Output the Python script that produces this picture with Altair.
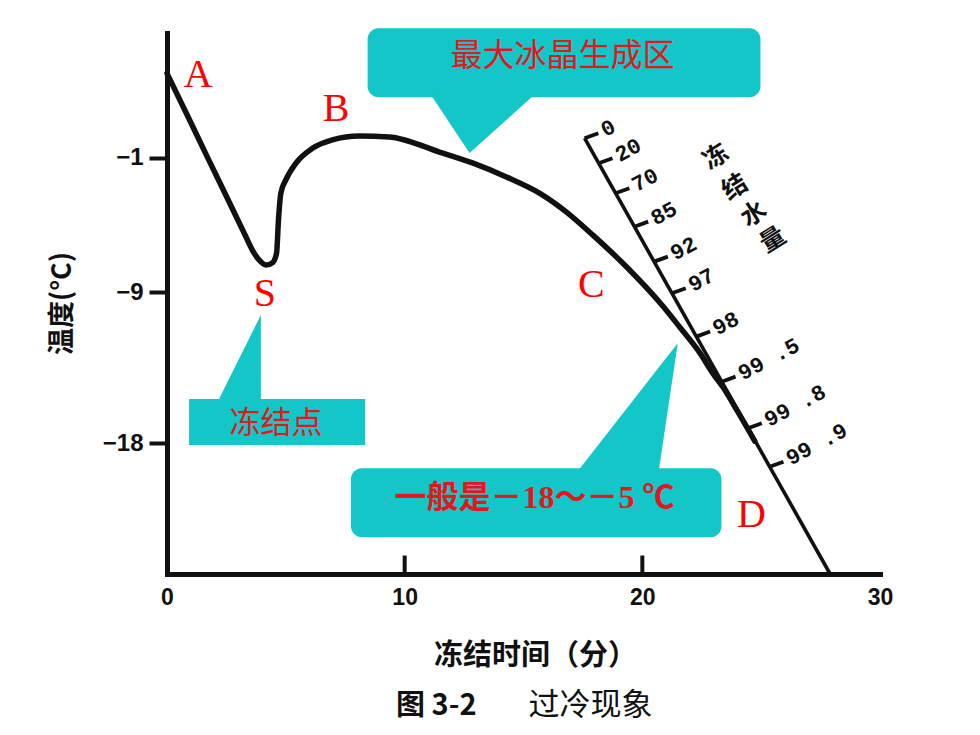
import altair as alt
import pandas as pd
import numpy as np

# ---------------- data ----------------
# cooling curve: freezing time (min) vs temperature (°C)
time_min = [0.0, 0.9, 1.72, 2.6, 3.3, 3.59, 3.88, 4.16, 4.44, 4.61, 4.69, 4.79, 5.00, 5.42, 6.12, 6.96, 8.09,
            9.35, 11.46, 12.85, 14.28, 15.67, 16.81, 17.91, 19.34, 20.86, 21.57, 22.42, 22.96, 23.39, 24.02, 24.73]
temp_c = [4.01, 1.38, -1.03, -3.60, -5.65, -6.50, -7.10, -7.39, -7.25, -6.69, -4.71, -3.12, -2.33, -1.34, -0.45,
          0.05, 0.28, 0.23, -0.67, -1.32, -2.15, -3.11, -4.24, -5.60, -7.51, -9.83, -11.08, -12.62, -13.82,
          -14.65, -16.13, -17.86]

# frozen-water-amount scale (the slanted line)
scale_time = [17.57, 27.89]
scale_temp = [0.15, -25.74]
frozen_labels = ["0", "20", "70", "85", "92", "97", "98", "99 .5", "99 .8", "99 .9"]
frozen_temp = [0.15, -1.34, -3.12, -5.11, -7.19, -9.07, -11.65, -14.33, -17.10, -19.39]
scale_title_chars = ["冻", "结", "水", "量"]
scale_title_time = [23.09, 23.89, 24.69, 25.49]
scale_title_temp = [-0.96, -2.75, -4.36, -5.90]

# axes
y_ticks = [-1, -9, -18]
x_ticks = [0, 10, 20, 30]
x_inner_ticks = [10, 20]
X_DOMAIN = [0, 30]
Y_DOMAIN = [-25.77, 6.41]

# point letters
point_names = ["A", "B", "S", "C", "D"]
point_time = [1.31, 7.11, 4.12, 17.85, 24.59]
point_temp = [3.91, 1.89, -9.11, -8.58, -22.26]

# callouts (data units)
callout_text = ["最大冰晶生成区", "冻结点", "一般是－18～－5 ℃"]
callout_time = [16.64, 4.59, 15.46]
callout_temp = [5.04, -16.85, -21.22]
round_box_x = [8.44, 7.74]
round_box_x2 = [24.97, 23.33]
round_box_y = [6.69, -19.48]
round_box_y2 = [2.59, -23.59]
square_box = dict(x=[0.93], x2=[8.34], y=[-15.36], y2=[-18.10])
pointer_id = ["p1", "p1", "p1", "p2", "p2", "p3", "p3", "p3"]
pointer_x = [11.17, 12.73, 15.34, 2.19, 3.95, 17.38, 20.68, 21.49]
pointer_y = [2.59, -0.73, 2.59, -15.36, -10.36, -19.48, -13.50, -12.05]
pointer_y2 = [2.95, 2.95, 2.95, -15.65, -15.65, -19.75, -19.75, -12.05]

caption_text = ["图 3-2", "过冷现象"]
caption_time = [11.33, 17.82]
caption_temp = [-33.6, -33.6]

# ---------------- styling ----------------
TEAL = "#13C6C7"
RED = "#E3181E"
LETTER_RED = "#FF0000"
INK = "#111111"
CJK = "Noto Sans CJK SC"

xs = alt.Scale(domain=X_DOMAIN, nice=False, zero=False)
ys = alt.Scale(domain=Y_DOMAIN, nice=False, zero=False)

x_axis = alt.Axis(
    values=x_ticks, ticks=False, tickSize=0, grid=False, domainWidth=5, domainColor=INK,
    domainCap="square", labelFont="Liberation Sans", labelFontWeight="bold", labelFontSize=23,
    labelColor=INK, labelPadding=12, labelFlush=False, labelOverlap=False, format="d",
    title="冻结时间（分）", titleFont=CJK, titleFontSize=29, titleFontWeight="bold",
    titleColor=INK, titleX=368, titleY=81, titleBaseline="middle", titleAlign="center")
y_axis = alt.Axis(
    values=y_ticks, tickSize=18, tickWidth=4, tickColor=INK, grid=False, domainWidth=5,
    domainColor=INK, domainCap="square", labelFont="Liberation Sans", labelFontWeight="bold",
    labelFontSize=24, labelColor=INK, labelPadding=6, labelFlush=False, labelOverlap=False,
    format="d", title="温度(°C)", titleFont=CJK, titleFontSize=27, titleFontWeight="bold",
    titleColor=INK, titleAngle=270, titleX=-105, titleY=270, titleBaseline="middle",
    titleAlign="center")


def X(f="x"):
    return alt.X(f"{f}:Q", scale=xs, axis=x_axis)


def Y(f="y"):
    return alt.Y(f"{f}:Q", scale=ys, axis=y_axis)


# ---------------- layers ----------------
rbox_df = pd.DataFrame({"x": round_box_x, "x2": round_box_x2, "y": round_box_y, "y2": round_box_y2})
rboxes = alt.Chart(rbox_df).mark_rect(color=TEAL, cornerRadius=11).encode(
    x=X(), x2="x2:Q", y=Y(), y2="y2:Q")

sbox = alt.Chart(pd.DataFrame(square_box)).mark_rect(color=TEAL).encode(
    x=X(), x2="x2:Q", y=Y(), y2="y2:Q")

ptr_df = pd.DataFrame({"id": pointer_id, "x": pointer_x, "y": pointer_y, "y2": pointer_y2})
pointers = alt.Chart(ptr_df).mark_area(color=TEAL, opacity=1).encode(
    x=X(), y=Y(), y2="y2:Q", detail="id:N")

callout_df = pd.DataFrame({"x": callout_time, "y": callout_temp, "t": callout_text})
c1 = alt.Chart(callout_df.iloc[[0]]).mark_text(font=CJK, fontSize=32, color=RED).encode(
    x=X(), y=Y(), text="t:N")
c2 = alt.Chart(callout_df.iloc[[1]]).mark_text(font=CJK, fontSize=31, color=RED).encode(
    x=X(), y=Y(), text="t:N")
c3 = alt.Chart(callout_df.iloc[[2]]).mark_text(font="Liberation Serif, " + CJK, fontSize=32,
                                               fontWeight="bold", color=RED).encode(
    x=X(), y=Y(), text="t:N")

curve_df = pd.DataFrame({"x": time_min, "y": temp_c})
curve = alt.Chart(curve_df).mark_line(color=INK, strokeWidth=5.5, interpolate="monotone",
                                      strokeCap="round", strokeJoin="round").encode(x=X(), y=Y())

inner_df = pd.DataFrame({"x": x_inner_ticks, "y": [Y_DOMAIN[0]] * len(x_inner_ticks),
                         "y2": [Y_DOMAIN[0] + 1.1] * len(x_inner_ticks)})
inner_ticks = alt.Chart(inner_df).mark_rule(color=INK, strokeWidth=4).encode(
    x=X(), y=Y(), y2="y2:Q")

diag_df = pd.DataFrame({"x": scale_time, "y": scale_temp})
diag = alt.Chart(diag_df).mark_line(color=INK, strokeWidth=3.6).encode(x=X(), y=Y())

ft = np.array(frozen_temp)
slope = (scale_time[1] - scale_time[0]) / (scale_temp[1] - scale_temp[0])
fx = scale_time[0] + (ft - scale_temp[0]) * slope
tick_df = pd.DataFrame({"x": fx, "y": ft, "x2": fx + 0.58, "y2": ft + 0.30, "t": frozen_labels})
diag_ticks = alt.Chart(tick_df).mark_rule(color=INK, strokeWidth=3.8).encode(
    x=X(), y=Y(), x2="x2:Q", y2="y2:Q")
diag_labels = alt.Chart(tick_df).mark_text(
    font="Liberation Mono", fontSize=22, fontWeight="bold", color=INK, angle=332,
    align="left", baseline="middle", dx=19, dy=2).encode(x=X(), y=Y(), text="t:N")

st_df = pd.DataFrame({"x": scale_title_time, "y": scale_title_temp, "t": scale_title_chars})
scale_title = alt.Chart(st_df).mark_text(font=CJK, fontSize=25, fontWeight="bold", color=INK,
                                         angle=328).encode(x=X(), y=Y(), text="t:N")

pt_df = pd.DataFrame({"x": point_time, "y": point_temp, "t": point_names})
letters = alt.Chart(pt_df).mark_text(font="Liberation Serif", fontSize=40, color=LETTER_RED).encode(
    x=X(), y=Y(), text="t:N")

cap_df = pd.DataFrame({"x": caption_time, "y": caption_temp, "t": caption_text})
cap1 = alt.Chart(cap_df.iloc[[0]]).mark_text(font=CJK, fontSize=29, fontWeight="bold", color=INK).encode(
    x=X(), y=Y(), text="t:N")
cap2 = alt.Chart(cap_df.iloc[[1]]).mark_text(font=CJK, fontSize=31, color=INK).encode(
    x=X(), y=Y(), text="t:N")

chart = alt.layer(
    rboxes, sbox, pointers, c1, c2, c3, inner_ticks, diag, diag_ticks, diag_labels, scale_title,
    curve, letters, cap1, cap2
).properties(
    width=713, height=541,
    padding={"left": 159, "top": 25, "right": 70, "bottom": 154},
    autosize=alt.AutoSizeParams(type="none"),
    background="white",
).configure_view(stroke=None)

chart.save("out.html", embed_options={"renderer": "svg", "actions": False})
